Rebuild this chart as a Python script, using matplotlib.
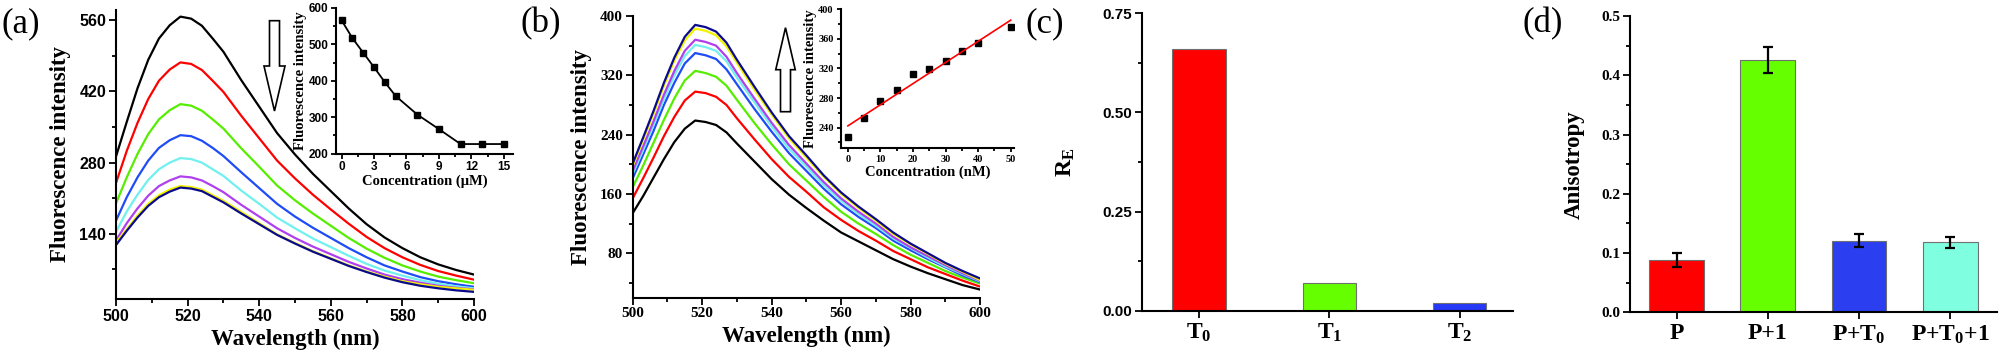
import numpy as np
import matplotlib
matplotlib.use("Agg")
import matplotlib.pyplot as plt
from matplotlib.patches import Polygon
from matplotlib.ticker import MultipleLocator

plt.rcParams["font.family"] = "Liberation Serif"
plt.rcParams["font.weight"] = "bold"
plt.rcParams["axes.labelweight"] = "bold"
plt.rcParams["mathtext.fontset"] = "custom"
plt.rcParams["mathtext.rm"] = "Liberation Serif:bold"
plt.rcParams["mathtext.it"] = "Liberation Serif:bold"
plt.rcParams["mathtext.bf"] = "Liberation Serif:bold"
plt.rcParams["axes.linewidth"] = 1.5

# ---- data ----
wl = [500, 503, 506, 509, 512, 515, 518, 521, 524, 527, 530, 535, 540,
      545, 550, 555, 560, 565, 570, 575, 580, 585, 590, 595, 600]

# (a) quenching spectra
a_black = [292, 360, 426, 482, 524, 550, 567, 563, 549, 524, 498, 442, 390, 338, 296, 258, 224, 190, 159, 133, 112, 94, 80, 69, 60]
a_red = [240, 303, 358, 405, 441, 463, 477, 474, 462, 441, 419, 372, 328, 284, 249, 217, 188, 160, 134, 112, 94, 79, 67, 58, 50]
a_green = [200, 251, 297, 336, 365, 383, 395, 392, 382, 365, 347, 308, 272, 235, 206, 180, 156, 132, 111, 93, 78, 66, 56, 49, 43]
a_blue = [166, 212, 251, 284, 309, 324, 334, 332, 323, 309, 293, 261, 230, 199, 174, 152, 132, 112, 94, 78, 66, 55, 47, 41, 36]
a_cyan = [144, 184, 217, 246, 267, 280, 289, 287, 280, 267, 254, 225, 199, 172, 151, 131, 114, 97, 81, 68, 58, 49, 42, 37, 33]
a_purple = [127, 161, 190, 215, 234, 245, 253, 251, 245, 234, 222, 197, 174, 151, 132, 115, 100, 85, 72, 60, 51, 44, 38, 34, 31]
a_yellow = [123, 149, 176, 199, 216, 227, 234, 232, 227, 216, 205, 183, 161, 139, 122, 106, 92, 78, 66, 56, 47, 41, 36, 33, 30]
a_navy = [118, 146, 172, 195, 212, 223, 231, 229, 224, 213, 202, 180, 159, 138, 121, 105, 91, 77, 65, 54, 45, 38, 33, 29, 26]

conc_a = [0, 1, 2, 3, 4, 5, 7, 9, 11, 13, 15]
inten_a = [566, 517, 477, 437, 396, 358, 307, 267, 226, 226, 226]

# (b) recovery spectra
b_black = [134, 157, 182, 207, 230, 248, 259, 257, 253, 243, 228, 204, 180, 159, 141, 124, 108, 96, 84, 72, 62, 53, 45, 37, 31]
b_red = [154, 181, 209, 238, 264, 286, 298, 296, 291, 280, 262, 234, 207, 183, 163, 142, 125, 110, 97, 83, 72, 61, 52, 43, 35]
b_green = [169, 198, 229, 260, 289, 313, 326, 323, 318, 306, 287, 256, 227, 200, 178, 156, 136, 120, 106, 91, 78, 67, 56, 47, 39]
b_blue = [181, 213, 245, 280, 310, 336, 350, 347, 342, 328, 308, 275, 244, 215, 191, 167, 146, 129, 114, 97, 84, 72, 61, 50, 41]
b_cyan = [187, 219, 253, 288, 320, 346, 361, 358, 353, 339, 317, 284, 251, 221, 197, 172, 151, 133, 117, 100, 87, 74, 62, 52, 42]
b_purple = [191, 224, 258, 294, 326, 353, 368, 365, 360, 345, 323, 289, 256, 226, 201, 176, 154, 136, 120, 102, 88, 76, 64, 53, 43]
b_yellow = [198, 233, 268, 306, 340, 367, 383, 380, 374, 359, 337, 301, 267, 235, 209, 183, 160, 141, 124, 106, 92, 79, 66, 55, 44]
b_navy = [201, 236, 272, 310, 344, 372, 388, 385, 379, 364, 341, 305, 270, 238, 212, 185, 162, 143, 126, 108, 93, 80, 67, 56, 46]

conc_b = [0, 5, 10, 15, 20, 25, 30, 35, 40, 50]
inten_b = [227, 253, 276, 291, 312, 319, 330, 343, 354, 376]

# (c) selectivity
re_labels = ["T$_0$", "T$_1$", "T$_2$"]
re_vals = [0.66, 0.07, 0.02]

# (d) anisotropy
an_labels = ["P", "P+1", "P+T$_0$", "P+T$_0$+1"]
an_vals = [0.088, 0.426, 0.121, 0.118]
an_errs = [0.012, 0.022, 0.011, 0.009]

spec_colors = ["black", "#FF0000", "#55EE00", "#1E4CF5", "#70F0EE", "#B040EE", "#F2F200", "#0A0A8C"]

W, H = 2000, 358
fig = plt.figure(figsize=(W / 100, H / 100), dpi=100)


def px_axes(left, top, right, bottom):
    return fig.add_axes([left / W, 1 - bottom / H, (right - left) / W, (bottom - top) / H])


def style(ax, size, family=None):
    ax.spines["top"].set_visible(False)
    ax.spines["right"].set_visible(False)
    ax.tick_params(which="both", direction="out", width=1.3, labelsize=size, pad=2)
    ax.tick_params(which="major", length=5)
    ax.tick_params(which="minor", length=3)
    if family:
        ax.tick_params(labelfontfamily=family)


def bold_ticks(ax):
    for lbl in ax.get_xticklabels() + ax.get_yticklabels():
        lbl.set_fontweight("bold")


def hollow_arrow(x, y_tail, y_tip, shaft, head, head_len):
    d = 1 if y_tip > y_tail else -1
    yb = y_tip - d * head_len
    pts = [(x - shaft / 2, y_tail), (x + shaft / 2, y_tail), (x + shaft / 2, yb),
           (x + head / 2, yb), (x, y_tip), (x - head / 2, yb), (x - shaft / 2, yb)]
    pts = [(px / W, 1 - py / H) for px, py in pts]
    fig.add_artist(Polygon(pts, closed=True, fc="white", ec="black", lw=1.2,
                           transform=fig.transFigure))


# ---- (a) ----
ax = px_axes(116, 10, 474, 299)
for ys, c in zip([a_black, a_red, a_green, a_blue, a_cyan, a_purple, a_yellow, a_navy], spec_colors):
    ax.plot(wl, ys, color=c, lw=1.6)
ax.set_xlim(500, 600)
ax.set_ylim(12, 580)
ax.xaxis.set_major_locator(MultipleLocator(20))
ax.xaxis.set_minor_locator(MultipleLocator(10))
ax.yaxis.set_major_locator(MultipleLocator(140))
ax.yaxis.set_minor_locator(MultipleLocator(70))
style(ax, 11.5, "Liberation Sans")
ax.set_xlabel("Wavelength (nm)", fontsize=16.5, labelpad=4)
ax.set_ylabel("Fluorescence intensity", fontsize=16.5, labelpad=6)
bold_ticks(ax)

ins = px_axes(336, 8, 513, 153.5)
ins.plot(conc_a, inten_a, color="black", lw=1.3, marker="s", ms=4.5)
ins.set_xlim(-0.52, 15.85)
ins.set_ylim(200, 600)
ins.xaxis.set_major_locator(MultipleLocator(3))
ins.xaxis.set_minor_locator(MultipleLocator(1.5))
ins.yaxis.set_major_locator(MultipleLocator(100))
ins.yaxis.set_minor_locator(MultipleLocator(50))
style(ins, 8.5, "Liberation Sans")
ins.tick_params(which="major", length=3.5)
ins.tick_params(which="minor", length=2)
ins.patch.set_alpha(0)
ins.set_xlabel("Concentration (\u03bcM)", fontsize=10.5, labelpad=1)
ins.set_ylabel("Fluorescence intensity", fontsize=10.5, labelpad=1)
bold_ticks(ins)
hollow_arrow(274.5, 20.7, 111, 10, 21, 45)

# ---- (b) ----
ax = px_axes(632.7, 16, 980, 297.7)
for ys, c in zip([b_black, b_red, b_green, b_blue, b_cyan, b_purple, b_yellow, b_navy], spec_colors):
    ax.plot(wl, ys, color=c, lw=1.6)
ax.set_xlim(500, 600)
ax.set_ylim(20, 400)
ax.xaxis.set_major_locator(MultipleLocator(20))
ax.xaxis.set_minor_locator(MultipleLocator(10))
ax.yaxis.set_major_locator(MultipleLocator(80))
ax.yaxis.set_minor_locator(MultipleLocator(40))
style(ax, 11)
ax.set_xlabel("Wavelength (nm)", fontsize=16.5, labelpad=4)
ax.set_ylabel("Fluorescence intensity", fontsize=16.5, labelpad=6)
bold_ticks(ax)

ins = px_axes(840.7, 9.3, 1014, 148.3)
ins.plot(conc_b, inten_b, ls="none", color="black", marker="s", ms=4.5)
slope, icpt = np.polyfit(conc_b, inten_b, 1)
xf = np.array([min(conc_b), max(conc_b)])
ins.plot(xf, slope * xf + icpt, color="#FF0000", lw=1.2)
ins.set_xlim(-2.2, 51)
ins.set_ylim(212, 400)
ins.xaxis.set_major_locator(MultipleLocator(10))
ins.xaxis.set_minor_locator(MultipleLocator(5))
ins.yaxis.set_major_locator(MultipleLocator(40))
ins.yaxis.set_minor_locator(MultipleLocator(20))
style(ins, 7.5)
ins.tick_params(which="major", length=3)
ins.tick_params(which="minor", length=2)
ins.patch.set_alpha(0)
ins.set_xlabel("Concentration (nM)", fontsize=10.5, labelpad=1)
ins.set_ylabel("Fluorescence intensity", fontsize=10.5, labelpad=1)
bold_ticks(ins)
hollow_arrow(785.5, 111.7, 27.7, 10, 19.5, 42)

# ---- (c) ----
ax = px_axes(1141.7, 13.3, 1513, 310.7)
ax.bar(range(len(re_vals)), re_vals, width=0.41,
       color=["#FF0000", "#66FF00", "#2438F5"], edgecolor="#707070", lw=0.8)
ax.set_xlim(-0.44, 2.41)
ax.set_ylim(0, 0.75)
ax.set_xticks(range(len(re_vals)))
ax.set_xticklabels(re_labels)
ax.yaxis.set_major_locator(MultipleLocator(0.25))
ax.yaxis.set_minor_locator(MultipleLocator(0.125))
ax.yaxis.set_major_formatter(plt.FormatStrFormatter("%.2f"))
style(ax, 11, "Liberation Sans")
ax.tick_params(axis="x", labelsize=17, labelfontfamily="Liberation Serif", pad=3)
ax.set_ylabel("R$_\\mathrm{E}$", fontsize=17, labelpad=18)
bold_ticks(ax)

# ---- (d) ----
ax = px_axes(1630, 16, 1996.7, 312.3)
xs = np.arange(len(an_vals))
ax.bar(xs, an_vals, width=0.6,
       color=["#FF0000", "#66FF00", "#2B3FF0", "#7FFFDF"], edgecolor="#707070", lw=0.8)
ax.errorbar(xs, an_vals, yerr=an_errs, fmt="none", ecolor="black",
            elinewidth=1.6, capsize=3.5, capthick=1.6)
ax.set_xlim(-0.51, 3.51)
ax.set_ylim(0, 0.5)
ax.set_xticks(xs)
ax.set_xticklabels(an_labels)
ax.yaxis.set_major_locator(MultipleLocator(0.1))
ax.yaxis.set_minor_locator(MultipleLocator(0.05))
style(ax, 11)
ax.tick_params(axis="x", labelsize=17, pad=3)
ax.set_ylabel("Anisotropy", fontsize=16.5, labelpad=12)
bold_ticks(ax)

# panel letters
for txt, xc in zip(["(a)", "(b)", "(c)", "(d)"], [21, 541, 1045, 1543]):
    fig.text(xc / W, 1 - 24 / H, txt, fontsize=25, fontweight="normal",
             ha="center", va="center")

fig.savefig("out.png", dpi=100)
